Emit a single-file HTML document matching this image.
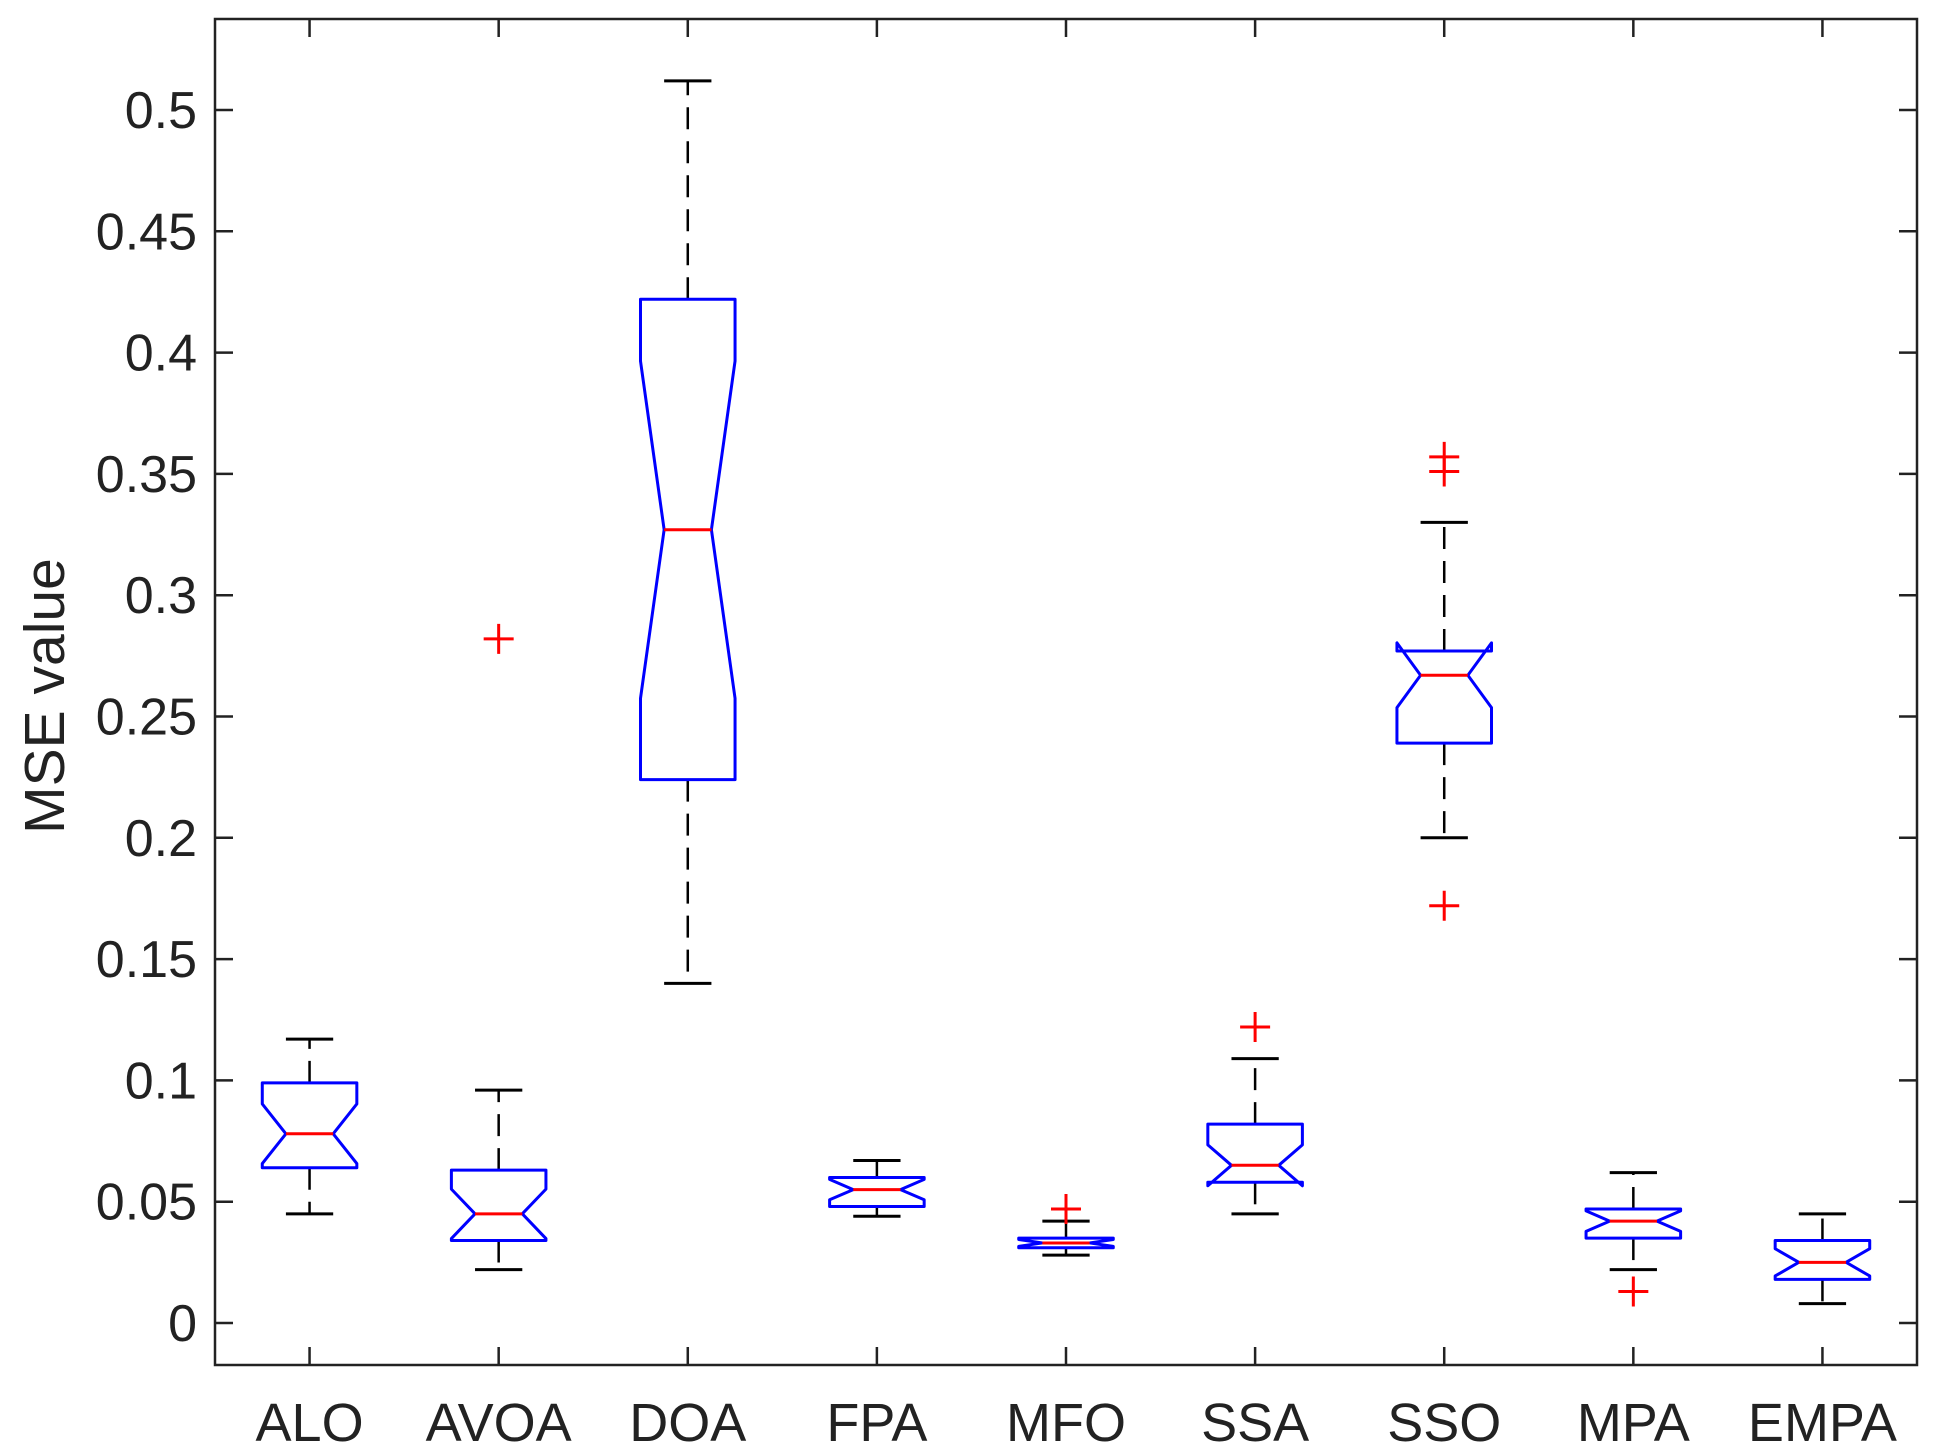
<!DOCTYPE html>
<html><head><meta charset="utf-8"><style>
html,body{margin:0;padding:0;background:#fff;}
svg{display:block;}
text{font-family:"Liberation Sans",Arial,sans-serif;fill:#222;}
</style></head><body>
<svg id="chart" width="1945" height="1455" viewBox="0 0 1945 1455">
<g id="plot"></g>
</svg>
<script>
const categories=["ALO","AVOA","DOA","FPA","MFO","SSA","SSO","MPA","EMPA"];
const whiskerLow=[0.045,0.022,0.140,0.044,0.028,0.045,0.200,0.022,0.008];
const whiskerHigh=[0.117,0.096,0.512,0.067,0.042,0.109,0.330,0.062,0.045];
const q1=[0.064,0.034,0.224,0.048,0.031,0.058,0.239,0.035,0.018];
const q3=[0.099,0.063,0.422,0.060,0.035,0.082,0.277,0.047,0.034];
const medians=[0.078,0.045,0.327,0.055,0.033,0.065,0.267,0.042,0.025];
const outliers=[[],[0.282],[],[],[0.047],[0.122],[0.351,0.357,0.172],[0.013],[]];
const yTicks=[0,0.05,0.1,0.15,0.2,0.25,0.3,0.35,0.4,0.45,0.5];
const yTickLabels=["0","0.05","0.1","0.15","0.2","0.25","0.3","0.35","0.4","0.45","0.5"];
const nSamples=20;

const L=215,R=1917,T=19,B=1365;
const y0px=1323,y5px=110;
const y=v=>y0px-(v)/0.5*(y0px-y5px);
const x=i=>L+(i+0.5)*(R-L)/categories.length;
const step=(R-L)/categories.length;
const NS="http://www.w3.org/2000/svg";
const g=document.getElementById('plot');
function el(tag,attrs,parent){const e=document.createElementNS(NS,tag);for(const k in attrs)e.setAttribute(k,attrs[k]);(parent||g).appendChild(e);return e;}

const frame=el('rect',{x:L,y:T,width:R-L,height:B-T,fill:'none',stroke:'#222','stroke-width':2.5});



yTicks.forEach((v,i)=>{
  const yy=y(v);
  const t1=el('line',{x1:L,x2:L+18,y1:yy,y2:yy,stroke:'#222','stroke-width':2.5});
  
  
  const t2=el('line',{x1:R-18,x2:R,y1:yy,y2:yy,stroke:'#222','stroke-width':2.5});
  
  
  const tx=el('text',{x:L-18,y:yy+18,'text-anchor':'end','font-size':52});
  tx.textContent=yTickLabels[i];
  
  
});
const yl=el('text',{x:0,y:0,'text-anchor':'middle','font-size':57,transform:'translate(64,696) rotate(-90)'});
yl.textContent='MSE value';



categories.forEach((c,i)=>{
  const cx=x(i);
  const t1=el('line',{x1:cx,x2:cx,y1:B,y2:B-18,stroke:'#222','stroke-width':2.5});
  
  
  const t2=el('line',{x1:cx,x2:cx,y1:T,y2:T+18,stroke:'#222','stroke-width':2.5});
  
  
  const tx=el('text',{x:cx,y:1441,'text-anchor':'middle','font-size':54});
  tx.textContent=c;
  
  

  const grp=el('g',{});
  
  
  const hw=step*0.25, nw=step*0.125, cw=step*0.125;
  const notch=1.57*(q3[i]-q1[i])/Math.sqrt(nSamples);
  const nt=medians[i]+notch, nb=medians[i]-notch;
  const wu=el('line',{x1:cx,x2:cx,y1:y(q3[i]),y2:y(whiskerHigh[i]),stroke:'#000','stroke-width':2.5,'stroke-dasharray':'22,12'},grp);
  
  
  const wl=el('line',{x1:cx,x2:cx,y1:y(q1[i]),y2:y(whiskerLow[i]),stroke:'#000','stroke-width':2.5,'stroke-dasharray':'22,12'},grp);
  
  
  const cu=el('line',{x1:cx-cw,x2:cx+cw,y1:y(whiskerHigh[i]),y2:y(whiskerHigh[i]),stroke:'#000','stroke-width':3},grp);
  
  
  const cl=el('line',{x1:cx-cw,x2:cx+cw,y1:y(whiskerLow[i]),y2:y(whiskerLow[i]),stroke:'#000','stroke-width':3},grp);
  
  
  const pts=[[cx-hw,y(q3[i])],[cx+hw,y(q3[i])],[cx+hw,y(nt)],[cx+nw,y(medians[i])],[cx+hw,y(nb)],[cx+hw,y(q1[i])],[cx-hw,y(q1[i])],[cx-hw,y(nb)],[cx-nw,y(medians[i])],[cx-hw,y(nt)]];
  const bx=el('polygon',{points:pts.map(p=>p.join(',')).join(' '),fill:'#fff',stroke:'#0000ff','stroke-width':3,'stroke-linejoin':'round'},grp);
  
  
  const md=el('line',{x1:cx-nw,x2:cx+nw,y1:y(medians[i]),y2:y(medians[i]),stroke:'#ff0000','stroke-width':3},grp);
  
  
  outliers[i].forEach(v=>{
    const o=el('path',{d:`M${cx-15},${y(v)}H${cx+15}M${cx},${y(v)-15}V${y(v)+15}`,stroke:'#ff0000','stroke-width':3,fill:'none'},grp);
    
    
  });
});
</script>
</body></html>
